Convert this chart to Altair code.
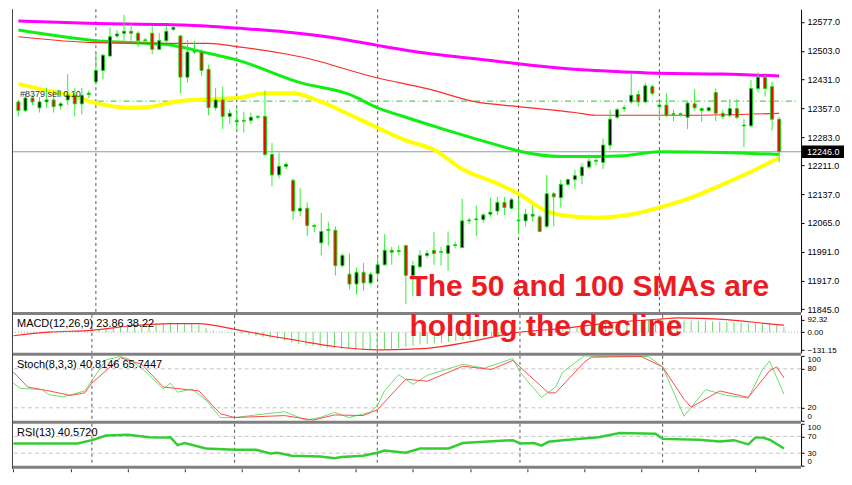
import altair as alt
import pandas as pd

# ---------------- data ----------------
OPEN = [12373,12351,12383,12358,12373,12378,12363,12378,12390,12368,
        12392,12424,12453,12490,12541,12548,12553,12548,12531,12548,
        12507,12529,12558,12541,12436,12502,12500,12456,12358,12378,
        12336,12326,12324,12326,12334,12336,12239,12187,12209,12173,
        12095,12102,12056,12014,12046,12046,11956,11934,11909,11939,
        11912,11936,11958,11995,11992,12007,11931,11953,11982,11995,
        11990,11987,12007,12002,12070,12073,12073,12087,12095,12117,
        12102,12070,12070,12087,12080,12056,12139,12129,12163,12175,
        12185,12207,12222,12219,12263,12334,12356,12373,12392,12373,
        12412,12361,12365,12341,12341,12334,12368,12356,12351,12397,
        12344,12339,12356,12312,12312,12407,12436,12412,12329]
HIGH = [12378,12395,12390,12385,12409,12402,12373,12444,12409,12409,
        12402,12500,12495,12563,12556,12595,12573,12553,12536,12566,
        12548,12566,12566,12544,12531,12529,12507,12468,12409,12412,
        12353,12358,12348,12346,12339,12402,12268,12244,12219,12178,
        12153,12117,12063,12090,12068,12056,11987,11987,11951,11963,
        11939,11978,12036,12004,12007,12009,11968,11995,11995,12041,
        12004,12043,12017,12126,12078,12109,12090,12129,12131,12131,
        12129,12129,12100,12109,12085,12187,12143,12175,12178,12200,
        12217,12239,12229,12280,12353,12358,12365,12444,12402,12422,
        12417,12373,12395,12353,12346,12373,12405,12358,12361,12407,
        12353,12380,12380,12329,12429,12448,12441,12424,12334]
LOW = [12336,12348,12365,12346,12358,12346,12353,12365,12336,12341,
       12383,12419,12431,12488,12536,12529,12529,12514,12524,12495,
       12505,12524,12553,12395,12422,12495,12439,12339,12351,12304,
       12317,12297,12295,12317,12329,12234,12158,12178,12202,12073,
       12082,12031,12041,11982,12007,11931,11951,11895,11882,11892,
       11907,11921,11956,11958,11982,11858,11878,11951,11975,11958,
       11956,11943,12000,12000,12061,12031,12065,12080,12085,12085,
       12100,12036,12056,12068,12041,12051,12056,12104,12158,12151,
       12163,12202,12212,12202,12251,12329,12348,12368,12361,12370,
       12390,12329,12334,12324,12336,12304,12351,12322,12348,12324,
       12329,12334,12329,12258,12309,12397,12387,12300,12219]
CLOSE = [12351,12383,12373,12373,12378,12361,12368,12390,12368,12390,
         12395,12453,12492,12539,12546,12553,12548,12529,12529,12507,
         12529,12553,12563,12436,12500,12500,12453,12358,12378,12336,
         12344,12322,12326,12334,12336,12239,12187,12209,12214,12095,
         12102,12058,12058,12043,12048,11956,11982,11909,11939,11912,
         11934,11958,11995,11990,11994,11931,11956,11982,11987,11987,
         11992,12007,12009,12070,12072,12075,12085,12092,12117,12104,
         12124,12072,12087,12082,12043,12139,12131,12163,12175,12185,
         12207,12222,12224,12263,12329,12353,12358,12390,12373,12414,
         12395,12365,12339,12343,12343,12370,12358,12351,12358,12344,
         12336,12356,12334,12314,12407,12436,12407,12329,12246]

MAGENTA_IDX = [0, 11, 21, 27, 31, 38, 45, 51, 58, 65, 71, 79, 82, 91, 100, 108]
MAGENTA_VAL = [12579, 12573, 12570, 12566, 12561, 12551, 12536, 12517, 12497, 12483, 12470, 12456, 12453, 12446, 12444, 12439]
RED_IDX = [0, 11, 21, 27, 31, 38, 40, 51, 58, 65, 71, 79, 82, 95, 108]
RED_VAL = [12539, 12524, 12522, 12522, 12514, 12495, 12488, 12434, 12407, 12373, 12361, 12346, 12339, 12339, 12344]
GREEN_IDX = [0, 11, 21, 27, 31, 40, 47, 51, 55, 61, 68, 71, 77, 82, 86, 91, 100, 108]
GREEN_VAL = [12556, 12529, 12519, 12497, 12480, 12422, 12392, 12358, 12334, 12300, 12263, 12248, 12234, 12234, 12236, 12246, 12244, 12239]
YELLOW_IDX = [0, 4, 7, 11, 16, 19, 22, 27, 31, 35, 39, 43, 47, 51, 55, 59, 63, 68, 71, 75, 77, 82, 88, 91, 95, 100, 104, 108]
YELLOW_VAL = [12419, 12402, 12392, 12370, 12358, 12361, 12373, 12380, 12383, 12395, 12395, 12373, 12341, 12307, 12275, 12251, 12202, 12165, 12139, 12095, 12085, 12078, 12090, 12104, 12126, 12163, 12195, 12231]

PRICE_TICKS = [12577, 12503, 12431, 12357, 12283, 12211, 12137, 12065, 11991, 11917, 11845]
LAST_PRICE = 12246
ORDER_LEVEL = 12375
ORDER_LABEL = "#8379 sell 0.10"
SESSION_IDX = [11, 31, 51, 71, 91]
TIME_TICKS = [0, 8, 16, 24, 32, 40, 48, 56, 64, 72, 80, 88, 96, 104]

MACD_HIST = [3,4,4,5,5,6,6,7,8,9,10,
             14,18,24,30,36,42,
             48,52,56,60,62,64,64,62,60,56,
             30,12,5,2,
             -5,-12,-20,-28,-35,-42,-50,-62,-75,-88,-96,-102,-108,-113,-118,-122,-126,-129,-131,-131,-130,-128,-123,-118,-110,-100,
             -90,-86,-82,-78,-72,-66,-58,-52,-46,
             -40,-34,-27,-20,-14,-8,-2,
             4,8,14,18,24,29,34,40,46,52,
             58,66,72,77,82,85,88,90,92,
             90,88,86,85,84,82,80,78,74,72,70,
             64,64,64,62,52,38]
MACD_SIG_IDX = [0, 5, 11, 17, 22, 26, 31, 36, 40, 45, 50, 52, 58, 64, 70, 77, 84, 91, 93, 100, 107, 108]
MACD_SIG = [-26, 0, 14, 49, 63, 63, 21, -28, -63, -105, -128, -130, -119, -70, -7, 28, 70, 98, 105, 92, 56, 52]
MACD_TICKS = [92.32, 0, -131.15]

STOCH_K_IDX = [0,1,4,5,7,10,11,13,15,16,18,21,22,23,25,27,29,31,34,38,41,43,45,47,50,51,52,54,56,58,63,66,70,71,74,76,77,80,82,89,91,94,97,100,103,105,106,108]
STOCH_K = [58,50,48,40,37,46,62,94,99,96,81,49,58,44,49,32,5,5,9,14,1,5,13,5,13,23,46,71,56,70,87,81,96,75,36,52,75,100,99,99,83,7,48,39,35,79,92,41]
STOCH_D_IDX = [0,2,5,8,10,11,15,18,21,26,29,31,38,42,45,49,51,55,58,63,67,70,75,76,80,81,88,91,94,95,99,103,106,107,108]
STOCH_D = [75,52,46,39,43,58,97,87,52,46,11,5,8,1,9,8,17,64,61,84,79,93,43,43,90,98,99,83,33,21,46,36,77,83,66]
STOCH_LEVELS = [20, 80]
STOCH_TICKS = [0, 20, 80, 100]

RSI_IDX = [0,9,11,13,16,19,21,22,23,24,27,31,34,36,37,39,43,45,46,49,51,52,55,57,61,63,70,71,73,74,75,77,82,85,90,91,96,99,101,103,104,105,106,108]
RSI_VAL = [53,53,61,72,74,68,67,68,49,54,41,38,38,29,31,24,22,18,21,24,31,36,31,41,41,54,61,53,54,48,57,61,68,78,76,64,62,58,61,51,67,67,62,41]
RSI_LEVELS = [30, 70]
RSI_TICKS = [0, 30, 70, 100]

NOTE_LINE1 = "The 50 and 100 SMAs are"
NOTE_LINE2 = "holding the decline"

# ---------------- layout / style ----------------
W = 790
H_MAIN, H_MACD, H_STOCH, H_RSI = 303, 38, 65, 42
FONT = "Liberation Sans"
WICK = "#33ee33"

xs = alt.Scale(domain=[-0.2, 110.4], nice=False, zero=False)
X = alt.X("i:Q", scale=xs, axis=None)
XR_AXIS = alt.Axis(values=TIME_TICKS, labels=False, ticks=True, tickSize=3, domain=False,
                   grid=False, title=None, offset=3, tickColor="#333333")
XR = alt.X("i:Q", scale=xs, axis=XR_AXIS)


def ax(values, fmt, flush=False, size=9):
    return alt.Axis(orient="right", values=values, format=fmt, title=None, grid=False,
                    tickSize=3, labelPadding=3, labelFontSize=size, labelFont=FONT,
                    domainColor="#000000", tickColor="#000000", labelColor="#000000",
                    labelFlush=flush, labelOverlap=False)


def ldf(idx, vals):
    return pd.DataFrame({"i": idx, "v": vals})


one = pd.DataFrame({"a": [0]})
vl_df = pd.DataFrame({"i": SESSION_IDX})


def vlines(xenc=X):
    return alt.Chart(vl_df).mark_rule(color="#555555", strokeDash=[3, 3], strokeWidth=1).encode(x=xenc)


def frame(h):
    sep = alt.Chart(one).mark_rule(color="#808080", strokeWidth=3).encode(
        x=alt.value(0), x2=alt.value(W), y=alt.value(h + 1.5))
    left = alt.Chart(one).mark_rule(color="#404040", strokeWidth=1).encode(
        x=alt.value(0.5), y=alt.value(0), y2=alt.value(h + 3))
    return [sep, left]


def panel_label(text):
    return alt.Chart(one).mark_text(align="left", baseline="top", font=FONT, fontSize=11,
                                    color="#000000").encode(
        x=alt.value(5), y=alt.value(3), text=alt.value(text))


# ---------------- main price panel ----------------
ym = alt.Scale(domain=[11838, 12609], nice=False, zero=False)
MAIN_AXIS = ax(PRICE_TICKS, ".1f")


def YM(field):
    return alt.Y(field, scale=ym, axis=MAIN_AXIS)


candles = pd.DataFrame({"i": list(range(len(OPEN))), "o": OPEN, "h": HIGH, "l": LOW, "c": CLOSE})


def ma_line(idx, vals, color, width):
    return alt.Chart(ldf(idx, vals)).mark_line(color=color, strokeWidth=width, interpolate="monotone").encode(
        x=X, y=YM("v:Q"))


last_df = pd.DataFrame({"v": [LAST_PRICE]})
order_df = pd.DataFrame({"i0": [9.4], "i1": [110.4], "v": [ORDER_LEVEL]})
box_df = pd.DataFrame({"top": [LAST_PRICE + 16], "bot": [LAST_PRICE - 16], "v": [LAST_PRICE],
                       "label": [f"{LAST_PRICE:.1f}"]})

last_line = alt.Chart(last_df).mark_rule(color="#8a9bb0", strokeWidth=1).encode(y=YM("v:Q"))
order_line = alt.Chart(order_df).mark_rule(color="#22cc22", strokeWidth=1, strokeDash=[6, 3, 1, 3]).encode(
    x=alt.X("i0:Q", scale=xs, axis=None), x2="i1:Q", y=YM("v:Q"))
order_text = alt.Chart(order_df).mark_text(align="left", baseline="bottom", dy=-2, font=FONT, fontSize=9,
                                           color="#333333").encode(
    x=alt.value(8), y=YM("v:Q"), text=alt.value(ORDER_LABEL))

wicks = alt.Chart(candles).mark_rule(color=WICK, strokeWidth=1).encode(
    x=X, y=YM("l:Q"), y2="h:Q")
bodies = alt.Chart(candles).mark_bar(size=3, stroke="#11dd11", strokeWidth=1).encode(
    x=X, y=YM("o:Q"), y2="c:Q",
    fill=alt.condition(alt.datum.c > alt.datum.o, alt.value("#000000"), alt.value("#ff0000")))

box = alt.Chart(box_df).mark_rect(color="#000000").encode(
    x=alt.value(W + 1), x2=alt.value(W + 43), y=YM("top:Q"), y2="bot:Q")
box_text = alt.Chart(box_df).mark_text(align="left", baseline="middle", font=FONT, fontSize=9,
                                       color="#ffffff").encode(
    x=alt.value(W + 6), y=YM("v:Q"), text="label:N")

main = alt.layer(
    vlines(), last_line, order_line,
    ma_line(GREEN_IDX, GREEN_VAL, "#11ee11", 3),
    ma_line(YELLOW_IDX, YELLOW_VAL, "#ffff00", 4),
    ma_line(MAGENTA_IDX, MAGENTA_VAL, "#ff00ff", 3),
    ma_line(RED_IDX, RED_VAL, "#ff2a2a", 1.2),
    wicks, bodies, order_text, box, box_text, *frame(H_MAIN)
).properties(width=W, height=H_MAIN)

# ---------------- MACD panel ----------------
ymacd = alt.Scale(domain=[-152, 127], nice=False, zero=False)
MACD_AXIS = ax(MACD_TICKS, ".2f", size=8)


def YMACD(field):
    return alt.Y(field, scale=ymacd, axis=MACD_AXIS)


hist_df = pd.DataFrame({"i": list(range(len(MACD_HIST))), "v": MACD_HIST, "z": [0] * len(MACD_HIST)})
zero_df = pd.DataFrame({"v": [0]})
macd = alt.layer(
    vlines(),
    alt.Chart(zero_df).mark_rule(color="#b0b0b0", strokeDash=[1, 2]).encode(y=YMACD("v:Q")),
    alt.Chart(hist_df).mark_rule(color="#66dd66", strokeWidth=1).encode(x=X, y=YMACD("v:Q"), y2="z:Q"),
    alt.Chart(ldf(MACD_SIG_IDX, MACD_SIG)).mark_line(color="#ff2a2a", strokeWidth=1.2, interpolate="monotone").encode(
        x=X, y=YMACD("v:Q")),
    panel_label("MACD(12,26,9) 23.86 38.22"),
    alt.Chart(one).mark_text(align="left", baseline="alphabetic", font=FONT, fontWeight="bold",
                             fontSize=30, color="#ed1c24").encode(
        x=alt.value(398), y=alt.value(-19), text=alt.value(NOTE_LINE1)),
    alt.Chart(one).mark_text(align="left", baseline="alphabetic", font=FONT, fontWeight="bold",
                             fontSize=30, color="#ed1c24").encode(
        x=alt.value(398), y=alt.value(21), text=alt.value(NOTE_LINE2)),
    *frame(H_MACD)
).properties(width=W, height=H_MACD)

# ---------------- Stochastic panel ----------------
y100 = alt.Scale(domain=[0, 100], nice=False, zero=False)
STOCH_AXIS = ax(STOCH_TICKS, "d", True, size=8)


def YS(field):
    return alt.Y(field, scale=y100, axis=STOCH_AXIS)


stoch = alt.layer(
    vlines(),
    alt.Chart(pd.DataFrame({"v": STOCH_LEVELS})).mark_rule(color="#c4c4c4", strokeDash=[4, 3]).encode(y=YS("v:Q")),
    alt.Chart(ldf(STOCH_K_IDX, STOCH_K)).mark_line(color="#6fdc6f", strokeWidth=1).encode(x=X, y=YS("v:Q")),
    alt.Chart(ldf(STOCH_D_IDX, STOCH_D)).mark_line(color="#ff4a4a", strokeWidth=1).encode(x=X, y=YS("v:Q")),
    panel_label("Stoch(8,3,3) 40.8146 65.7447"),
    *frame(H_STOCH)
).properties(width=W, height=H_STOCH)

# ---------------- RSI panel ----------------
RSI_AXIS = ax(RSI_TICKS, "d", True, size=8)


def YR(field):
    return alt.Y(field, scale=y100, axis=RSI_AXIS)


rsi = alt.layer(
    vlines(XR),
    alt.Chart(pd.DataFrame({"v": RSI_LEVELS})).mark_rule(color="#c4c4c4", strokeDash=[4, 3]).encode(y=YR("v:Q")),
    alt.Chart(ldf(RSI_IDX, RSI_VAL)).mark_line(color="#33cc33", strokeWidth=2.5).encode(x=XR, y=YR("v:Q")),
    panel_label("RSI(13) 40.5720"),
    *frame(H_RSI)
).properties(width=W, height=H_RSI)

chart = alt.vconcat(main, macd, stoch, rsi, spacing=3, bounds="flush", padding=0,
                    background="#ffffff").configure_view(stroke=None)

chart.save("out.html", embed_options={"renderer": "svg", "actions": False})
